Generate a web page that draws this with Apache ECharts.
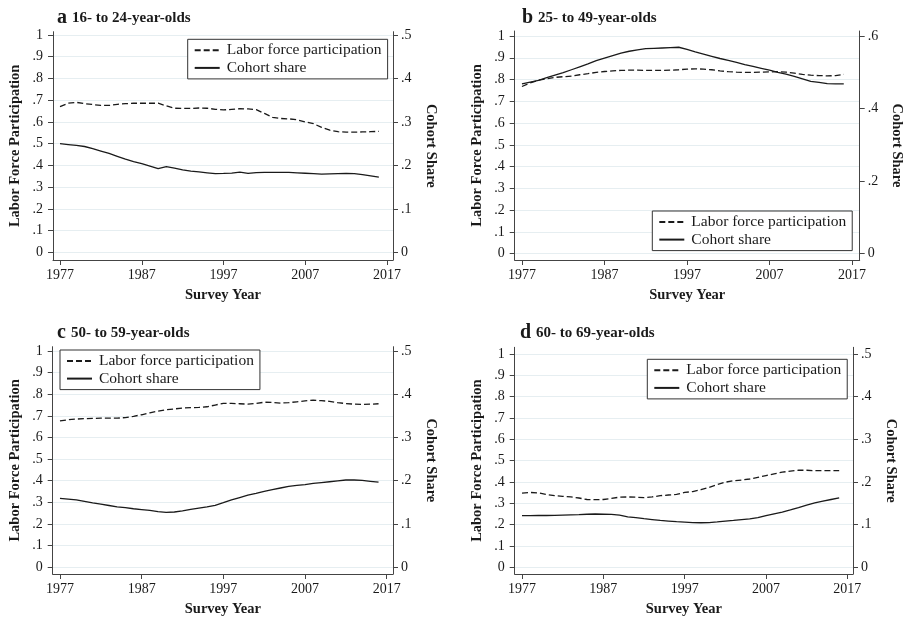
<!DOCTYPE html>
<html>
<head>
<meta charset="utf-8">
<script src="https://cdn.jsdelivr.net/npm/echarts@6/dist/echarts.min.js"></script>
<style>
  html, body { margin: 0; padding: 0; background: #fff; }
  #chart { width: 907px; height: 618px; }
</style>
</head>
<body>
<div id="chart"></div>
<script>
var years = [1977, 1978, 1979, 1980, 1981, 1982, 1983, 1984, 1985, 1986,
  1987, 1988, 1989, 1990, 1991, 1992, 1993, 1994, 1995, 1996,
  1997, 1998, 1999, 2000, 2001, 2002, 2003, 2004, 2005, 2006,
  2007, 2008, 2009, 2010, 2011, 2012, 2013, 2014, 2015, 2016];

var xTicks = [1977, 1987, 1997, 2007, 2017];
var leftTicks = [0, 0.1, 0.2, 0.3, 0.4, 0.5, 0.6, 0.7, 0.8, 0.9, 1];
var rightTicks5 = [0, 0.1, 0.2, 0.3, 0.4, 0.5];
var rightTicks6 = [0, 0.2, 0.4, 0.6];

var panelTitles = ['16- to 24-year-olds', '25- to 49-year-olds', '50- to 59-year-olds', '60- to 69-year-olds'];
var panelLetters = ['a', 'b', 'c', 'd'];

// labor force participation (left axis)
var lfpA = [0.670, 0.686, 0.690, 0.684, 0.680, 0.676, 0.676, 0.681, 0.684, 0.686,
  0.686, 0.686, 0.686, 0.674, 0.663, 0.662, 0.662, 0.664, 0.663, 0.658,
  0.655, 0.658, 0.661, 0.660, 0.657, 0.639, 0.621, 0.616, 0.614, 0.610,
  0.600, 0.592, 0.575, 0.562, 0.555, 0.553, 0.553, 0.554, 0.555, 0.557];
var lfpB = [0.768, 0.785, 0.797, 0.804, 0.810, 0.813, 0.816, 0.822, 0.827, 0.833,
  0.837, 0.840, 0.842, 0.843, 0.843, 0.842, 0.842, 0.842, 0.843, 0.845,
  0.848, 0.849, 0.848, 0.845, 0.840, 0.836, 0.834, 0.833, 0.833, 0.834,
  0.835, 0.836, 0.834, 0.829, 0.824, 0.820, 0.818, 0.817, 0.818, 0.824];
var lfpC = [0.677, 0.682, 0.685, 0.687, 0.688, 0.689, 0.689, 0.689, 0.692, 0.698,
  0.705, 0.714, 0.722, 0.728, 0.732, 0.736, 0.738, 0.739, 0.742, 0.750,
  0.758, 0.758, 0.756, 0.754, 0.757, 0.763, 0.762, 0.759, 0.761, 0.765,
  0.769, 0.773, 0.770, 0.767, 0.761, 0.757, 0.754, 0.753, 0.754, 0.756];
var lfpD = [0.348, 0.351, 0.349, 0.341, 0.336, 0.333, 0.330, 0.325, 0.318, 0.317,
  0.318, 0.323, 0.329, 0.330, 0.329, 0.327, 0.330, 0.336, 0.339, 0.342,
  0.351, 0.355, 0.364, 0.375, 0.388, 0.399, 0.406, 0.409, 0.414, 0.422,
  0.430, 0.438, 0.446, 0.451, 0.455, 0.455, 0.453, 0.453, 0.453, 0.453];

// cohort share (right axis)
var shareA = [0.250, 0.248, 0.246, 0.2435, 0.2385, 0.233, 0.2275, 0.221, 0.2145, 0.209,
  0.204, 0.1985, 0.1925, 0.197, 0.194, 0.190, 0.187, 0.185, 0.183, 0.181,
  0.1815, 0.1825, 0.1845, 0.1815, 0.1835, 0.184, 0.184, 0.184, 0.184, 0.183,
  0.182, 0.181, 0.180, 0.1805, 0.181, 0.1815, 0.181, 0.179, 0.176, 0.173];
var shareB = [0.468, 0.473, 0.478, 0.485, 0.492, 0.499, 0.507, 0.515, 0.523, 0.532,
  0.539, 0.546, 0.553, 0.558, 0.562, 0.565, 0.566, 0.567, 0.568, 0.569,
  0.563, 0.556, 0.550, 0.544, 0.538, 0.533, 0.527, 0.521, 0.516, 0.511,
  0.506, 0.500, 0.495, 0.489, 0.482, 0.475, 0.472, 0.469, 0.468, 0.468];
var shareC = [0.159, 0.1575, 0.1555, 0.152, 0.1485, 0.1455, 0.1425, 0.1395, 0.1375, 0.135,
  0.133, 0.131, 0.1285, 0.1265, 0.1275, 0.130, 0.1335, 0.1365, 0.1395, 0.143,
  0.149, 0.1555, 0.161, 0.1665, 0.1705, 0.175, 0.179, 0.183, 0.187, 0.189,
  0.191, 0.1935, 0.1955, 0.1975, 0.1995, 0.2015, 0.2015, 0.2005, 0.1985, 0.1965];
var shareD = [0.121, 0.121, 0.1215, 0.1215, 0.122, 0.1225, 0.123, 0.1235, 0.1245, 0.125,
  0.1245, 0.124, 0.1225, 0.1185, 0.1165, 0.114, 0.112, 0.110, 0.1085, 0.107,
  0.106, 0.105, 0.1045, 0.105, 0.1065, 0.1085, 0.110, 0.112, 0.1135, 0.1165,
  0.121, 0.1255, 0.1295, 0.1345, 0.140, 0.146, 0.151, 0.155, 0.159, 0.163];

(function () {
  var ink = '#1a1a1a';
  var axisColor = '#444';
  var gridColor = '#e6eef1';
  var font = '"Liberation Serif", "DejaVu Serif", serif';

  var lfp = [lfpA, lfpB, lfpC, lfpD];
  var share = [shareA, shareB, shareC, shareD];
  var rightTicks = [rightTicks5, rightTicks6, rightTicks5, rightTicks5];
  var rightMax = [0.5, 0.6, 0.5, 0.5];

  // panel layout in px
  var panels = [
    { left: 53, top: 31.7, width: 340, height: 228.3, xMin: 1976.14, xMax: 2017.73, yMin: -0.035, yMax: 1.015, legend: [187.7, 39.3], title: [52, 2] },
    { left: 514.7, top: 31, width: 345, height: 229, xMin: 1976.12, xMax: 2017.93, yMin: -0.029, yMax: 1.023, legend: [652.3, 211], title: [517, 2] },
    { left: 52.7, top: 346.7, width: 340.3, height: 227.6, xMin: 1976.11, xMax: 2017.77, yMin: -0.032, yMax: 1.02, legend: [60, 350], title: [52, 317] },
    { left: 514.7, top: 347.3, width: 338.3, height: 227.7, xMin: 1976.1, xMax: 2017.7, yMin: -0.031, yMax: 1.031, legend: [647.3, 359.3], title: [515, 317] }
  ];

  function tickText(v) {
    if (v === 0) return '0';
    if (v === 1) return '1';
    return '.' + Math.round(v * 10);
  }

  function pairs(vals) {
    return years.map(function (y, i) { return [y, vals[i]]; });
  }

  var grids = [], xAxes = [], yAxes = [], series = [], legends = [], titles = [];

  panels.forEach(function (p, i) {
    grids.push({ left: p.left, top: p.top, width: p.width, height: p.height, containLabel: false });

    xAxes.push({
      gridIndex: i,
      type: 'value',
      min: p.xMin,
      max: p.xMax,
      name: 'Survey Year',
      nameLocation: 'middle',
      nameGap: 28,
      nameTextStyle: { fontFamily: font, fontWeight: 'bold', fontSize: 14.5, color: ink },
      axisLine: { show: true, onZero: false, lineStyle: { color: axisColor, width: 1 } },
      axisTick: { show: true, length: 5, customValues: xTicks, lineStyle: { color: axisColor } },
      axisLabel: {
        customValues: xTicks, margin: 8, fontFamily: font, fontSize: 14, color: ink,
        formatter: function (v) { return String(Math.round(v)); }
      },
      splitLine: { show: false }
    });

    yAxes.push({
      gridIndex: i,
      type: 'value',
      position: 'left',
      min: p.yMin,
      max: p.yMax,
      name: 'Labor Force Participation',
      nameLocation: 'middle',
      nameGap: 30,
      nameTextStyle: { fontFamily: font, fontWeight: 'bold', fontSize: 14.5, color: ink },
      axisLine: { show: true, lineStyle: { color: axisColor, width: 1 } },
      axisTick: { show: true, length: 5, customValues: leftTicks, lineStyle: { color: axisColor } },
      axisLabel: { customValues: leftTicks, margin: 10, formatter: tickText, fontFamily: font, fontSize: 14, color: ink },
      splitLine: { show: true, lineStyle: { color: gridColor, width: 1 } }
    });

    yAxes.push({
      gridIndex: i,
      type: 'value',
      position: 'right',
      min: p.yMin * rightMax[i],
      max: p.yMax * rightMax[i],
      name: 'Cohort Share',
      nameLocation: 'middle',
      nameRotate: -90,
      nameGap: 30,
      nameTextStyle: { fontFamily: font, fontWeight: 'bold', fontSize: 14.5, color: ink },
      axisLine: { show: true, lineStyle: { color: axisColor, width: 1 } },
      axisTick: { show: true, length: 5, customValues: rightTicks[i], lineStyle: { color: axisColor } },
      axisLabel: { customValues: rightTicks[i], margin: 8, formatter: tickText, fontFamily: font, fontSize: 14, color: ink },
      splitLine: { show: false }
    });

    series.push({
      name: 'Labor force participation',
      type: 'line',
      xAxisIndex: i,
      yAxisIndex: i * 2,
      symbol: 'none',
      lineStyle: { color: ink, width: 1.3, type: [6, 3] },
      itemStyle: { color: ink },
      data: pairs(lfp[i])
    });
    series.push({
      name: 'Cohort share',
      type: 'line',
      xAxisIndex: i,
      yAxisIndex: i * 2 + 1,
      symbol: 'none',
      lineStyle: { color: ink, width: 1.3, type: 'solid' },
      itemStyle: { color: ink },
      data: pairs(share[i])
    });

    legends.push({
      left: p.legend[0],
      top: p.legend[1],
      orient: 'vertical',
      data: ['Labor force participation', 'Cohort share'],
      padding: [3, 6, 3, 6],
      itemGap: 1.6,
      itemWidth: 25,
      itemHeight: 14,
      itemStyle: { opacity: 0 },
      backgroundColor: '#fff',
      borderColor: '#333',
      borderWidth: 1,
      selectedMode: false,
      textStyle: { fontFamily: font, fontSize: 15.5, color: ink, lineHeight: 16, padding: [0, 0, 0, 2] }
    });

    titles.push({
      left: p.title[0],
      top: p.title[1],
      text: '{l|' + panelLetters[i] + '} {t|' + panelTitles[i] + '}',
      textStyle: {
        rich: {
          l: { fontFamily: font, fontWeight: 'bold', fontSize: 20, color: ink, lineHeight: 22 },
          t: { fontFamily: font, fontWeight: 'bold', fontSize: 15, color: ink, lineHeight: 22 }
        }
      }
    });
  });

  var chart = echarts.init(document.getElementById('chart'), null, { renderer: 'canvas' });
  chart.setOption({
    animation: false,
    backgroundColor: '#fff',
    title: titles,
    legend: legends,
    grid: grids,
    xAxis: xAxes,
    yAxis: yAxes,
    series: series
  });
})();
</script>
</body>
</html>
